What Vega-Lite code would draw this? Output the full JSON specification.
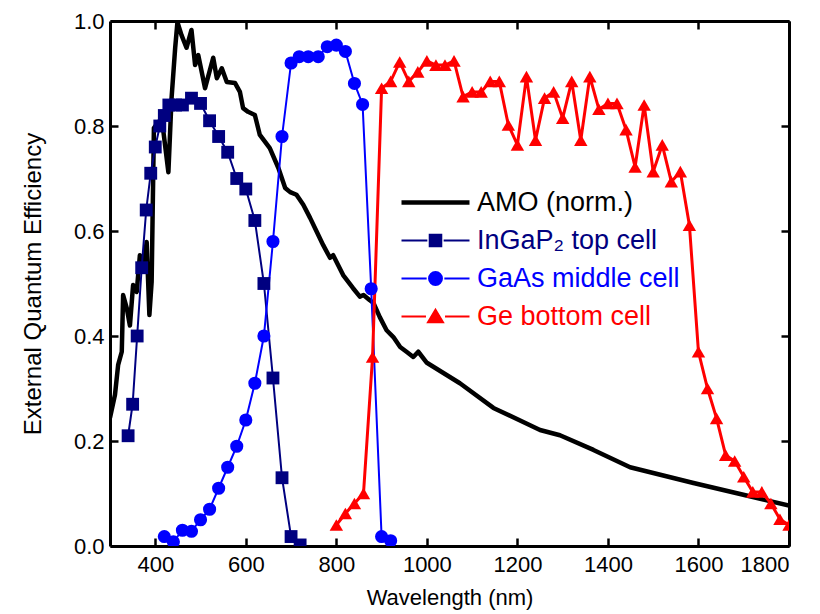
{
  "$schema": "https://vega.github.io/schema/vega-lite/v6.json",
  "width": 679,
  "height": 525,
  "autosize": {"type": "none"},
  "padding": {"left": 110, "top": 21, "right": 31, "bottom": 68},
  "background": "white",
  "config": {
    "view": {"stroke": null},
    "axis": {
      "grid": false,
      "domainColor": "black",
      "domainWidth": 3,
      "tickColor": "black",
      "tickWidth": 2.5,
      "tickSize": -8,
      "labelFont": "Liberation Sans Narrow, Liberation Sans",
      "labelFontSize": 22,
      "labelColor": "black",
      "titleFont": "Liberation Sans",
      "titleFontWeight": "normal",
      "titleColor": "black",
      "titleFontSize": 22
    }
  },
  "datasets": {
    "am0": [
      {"series": "AMO (norm.)", "nm": 300, "eqe": 0.244},
      {"series": "AMO (norm.)", "nm": 311, "eqe": 0.288},
      {"series": "AMO (norm.)", "nm": 318, "eqe": 0.345},
      {"series": "AMO (norm.)", "nm": 326, "eqe": 0.37},
      {"series": "AMO (norm.)", "nm": 329, "eqe": 0.478},
      {"series": "AMO (norm.)", "nm": 337, "eqe": 0.453},
      {"series": "AMO (norm.)", "nm": 344, "eqe": 0.42},
      {"series": "AMO (norm.)", "nm": 351, "eqe": 0.497},
      {"series": "AMO (norm.)", "nm": 359, "eqe": 0.484},
      {"series": "AMO (norm.)", "nm": 366, "eqe": 0.554},
      {"series": "AMO (norm.)", "nm": 374, "eqe": 0.53},
      {"series": "AMO (norm.)", "nm": 381, "eqe": 0.579},
      {"series": "AMO (norm.)", "nm": 387, "eqe": 0.44},
      {"series": "AMO (norm.)", "nm": 392, "eqe": 0.503},
      {"series": "AMO (norm.)", "nm": 397, "eqe": 0.796},
      {"series": "AMO (norm.)", "nm": 407, "eqe": 0.808},
      {"series": "AMO (norm.)", "nm": 418, "eqe": 0.789},
      {"series": "AMO (norm.)", "nm": 429, "eqe": 0.712},
      {"series": "AMO (norm.)", "nm": 436, "eqe": 0.853},
      {"series": "AMO (norm.)", "nm": 444, "eqe": 0.949},
      {"series": "AMO (norm.)", "nm": 449, "eqe": 0.998},
      {"series": "AMO (norm.)", "nm": 458, "eqe": 0.973},
      {"series": "AMO (norm.)", "nm": 469, "eqe": 0.949},
      {"series": "AMO (norm.)", "nm": 480, "eqe": 0.983},
      {"series": "AMO (norm.)", "nm": 488, "eqe": 0.916},
      {"series": "AMO (norm.)", "nm": 495, "eqe": 0.935},
      {"series": "AMO (norm.)", "nm": 510, "eqe": 0.872},
      {"series": "AMO (norm.)", "nm": 528, "eqe": 0.93},
      {"series": "AMO (norm.)", "nm": 536, "eqe": 0.891},
      {"series": "AMO (norm.)", "nm": 547, "eqe": 0.91},
      {"series": "AMO (norm.)", "nm": 558, "eqe": 0.884},
      {"series": "AMO (norm.)", "nm": 576, "eqe": 0.882},
      {"series": "AMO (norm.)", "nm": 587, "eqe": 0.865},
      {"series": "AMO (norm.)", "nm": 594, "eqe": 0.834},
      {"series": "AMO (norm.)", "nm": 605, "eqe": 0.827},
      {"series": "AMO (norm.)", "nm": 620, "eqe": 0.821},
      {"series": "AMO (norm.)", "nm": 631, "eqe": 0.783},
      {"series": "AMO (norm.)", "nm": 653, "eqe": 0.758},
      {"series": "AMO (norm.)", "nm": 672, "eqe": 0.72},
      {"series": "AMO (norm.)", "nm": 687, "eqe": 0.682},
      {"series": "AMO (norm.)", "nm": 698, "eqe": 0.674},
      {"series": "AMO (norm.)", "nm": 712, "eqe": 0.669},
      {"series": "AMO (norm.)", "nm": 727, "eqe": 0.65},
      {"series": "AMO (norm.)", "nm": 742, "eqe": 0.625},
      {"series": "AMO (norm.)", "nm": 757, "eqe": 0.598},
      {"series": "AMO (norm.)", "nm": 771, "eqe": 0.573},
      {"series": "AMO (norm.)", "nm": 786, "eqe": 0.549},
      {"series": "AMO (norm.)", "nm": 793, "eqe": 0.554},
      {"series": "AMO (norm.)", "nm": 815, "eqe": 0.516},
      {"series": "AMO (norm.)", "nm": 837, "eqe": 0.491},
      {"series": "AMO (norm.)", "nm": 852, "eqe": 0.475},
      {"series": "AMO (norm.)", "nm": 860, "eqe": 0.478},
      {"series": "AMO (norm.)", "nm": 874, "eqe": 0.468},
      {"series": "AMO (norm.)", "nm": 882, "eqe": 0.463},
      {"series": "AMO (norm.)", "nm": 896, "eqe": 0.436},
      {"series": "AMO (norm.)", "nm": 911, "eqe": 0.411},
      {"series": "AMO (norm.)", "nm": 926, "eqe": 0.398},
      {"series": "AMO (norm.)", "nm": 941, "eqe": 0.379},
      {"series": "AMO (norm.)", "nm": 955, "eqe": 0.37},
      {"series": "AMO (norm.)", "nm": 970, "eqe": 0.36},
      {"series": "AMO (norm.)", "nm": 981, "eqe": 0.37},
      {"series": "AMO (norm.)", "nm": 1000, "eqe": 0.349},
      {"series": "AMO (norm.)", "nm": 1073, "eqe": 0.31},
      {"series": "AMO (norm.)", "nm": 1147, "eqe": 0.263},
      {"series": "AMO (norm.)", "nm": 1250, "eqe": 0.221},
      {"series": "AMO (norm.)", "nm": 1294, "eqe": 0.211},
      {"series": "AMO (norm.)", "nm": 1368, "eqe": 0.183},
      {"series": "AMO (norm.)", "nm": 1449, "eqe": 0.15},
      {"series": "AMO (norm.)", "nm": 1589, "eqe": 0.12},
      {"series": "AMO (norm.)", "nm": 1800, "eqe": 0.077}
    ],
    "cells": [
      {"series": "InGaP₂ top cell", "nm": 340, "eqe": 0.21},
      {"series": "InGaP₂ top cell", "nm": 350, "eqe": 0.27},
      {"series": "InGaP₂ top cell", "nm": 360, "eqe": 0.40},
      {"series": "InGaP₂ top cell", "nm": 370, "eqe": 0.53},
      {"series": "InGaP₂ top cell", "nm": 380, "eqe": 0.64},
      {"series": "InGaP₂ top cell", "nm": 390, "eqe": 0.71},
      {"series": "InGaP₂ top cell", "nm": 400, "eqe": 0.76},
      {"series": "InGaP₂ top cell", "nm": 410, "eqe": 0.80},
      {"series": "InGaP₂ top cell", "nm": 420, "eqe": 0.82},
      {"series": "InGaP₂ top cell", "nm": 430, "eqe": 0.84},
      {"series": "InGaP₂ top cell", "nm": 445, "eqe": 0.84},
      {"series": "InGaP₂ top cell", "nm": 460, "eqe": 0.84},
      {"series": "InGaP₂ top cell", "nm": 480, "eqe": 0.853},
      {"series": "InGaP₂ top cell", "nm": 500, "eqe": 0.843},
      {"series": "InGaP₂ top cell", "nm": 520, "eqe": 0.81},
      {"series": "InGaP₂ top cell", "nm": 540, "eqe": 0.78},
      {"series": "InGaP₂ top cell", "nm": 560, "eqe": 0.75},
      {"series": "InGaP₂ top cell", "nm": 580, "eqe": 0.70},
      {"series": "InGaP₂ top cell", "nm": 600, "eqe": 0.68},
      {"series": "InGaP₂ top cell", "nm": 620, "eqe": 0.62},
      {"series": "InGaP₂ top cell", "nm": 640, "eqe": 0.50},
      {"series": "InGaP₂ top cell", "nm": 660, "eqe": 0.32},
      {"series": "InGaP₂ top cell", "nm": 680, "eqe": 0.13},
      {"series": "InGaP₂ top cell", "nm": 700, "eqe": 0.018},
      {"series": "InGaP₂ top cell", "nm": 720, "eqe": 0.002},
      {"series": "GaAs middle cell", "nm": 420, "eqe": 0.018},
      {"series": "GaAs middle cell", "nm": 440, "eqe": 0.008},
      {"series": "GaAs middle cell", "nm": 460, "eqe": 0.03},
      {"series": "GaAs middle cell", "nm": 480, "eqe": 0.028},
      {"series": "GaAs middle cell", "nm": 500, "eqe": 0.05},
      {"series": "GaAs middle cell", "nm": 520, "eqe": 0.07},
      {"series": "GaAs middle cell", "nm": 540, "eqe": 0.11},
      {"series": "GaAs middle cell", "nm": 560, "eqe": 0.15},
      {"series": "GaAs middle cell", "nm": 580, "eqe": 0.19},
      {"series": "GaAs middle cell", "nm": 600, "eqe": 0.24},
      {"series": "GaAs middle cell", "nm": 620, "eqe": 0.31},
      {"series": "GaAs middle cell", "nm": 640, "eqe": 0.40},
      {"series": "GaAs middle cell", "nm": 660, "eqe": 0.58},
      {"series": "GaAs middle cell", "nm": 680, "eqe": 0.78},
      {"series": "GaAs middle cell", "nm": 700, "eqe": 0.92},
      {"series": "GaAs middle cell", "nm": 718, "eqe": 0.932},
      {"series": "GaAs middle cell", "nm": 738, "eqe": 0.932},
      {"series": "GaAs middle cell", "nm": 760, "eqe": 0.932},
      {"series": "GaAs middle cell", "nm": 780, "eqe": 0.951},
      {"series": "GaAs middle cell", "nm": 800, "eqe": 0.954},
      {"series": "GaAs middle cell", "nm": 820, "eqe": 0.942},
      {"series": "GaAs middle cell", "nm": 840, "eqe": 0.881},
      {"series": "GaAs middle cell", "nm": 858, "eqe": 0.841},
      {"series": "GaAs middle cell", "nm": 877, "eqe": 0.49},
      {"series": "GaAs middle cell", "nm": 900, "eqe": 0.018},
      {"series": "GaAs middle cell", "nm": 920, "eqe": 0.01},
      {"series": "Ge bottom cell", "nm": 800, "eqe": 0.04},
      {"series": "Ge bottom cell", "nm": 820, "eqe": 0.062},
      {"series": "Ge bottom cell", "nm": 840, "eqe": 0.081},
      {"series": "Ge bottom cell", "nm": 860, "eqe": 0.10},
      {"series": "Ge bottom cell", "nm": 880, "eqe": 0.36},
      {"series": "Ge bottom cell", "nm": 900, "eqe": 0.872},
      {"series": "Ge bottom cell", "nm": 920, "eqe": 0.885},
      {"series": "Ge bottom cell", "nm": 940, "eqe": 0.922},
      {"series": "Ge bottom cell", "nm": 960, "eqe": 0.885},
      {"series": "Ge bottom cell", "nm": 980, "eqe": 0.903},
      {"series": "Ge bottom cell", "nm": 1000, "eqe": 0.924},
      {"series": "Ge bottom cell", "nm": 1020, "eqe": 0.916},
      {"series": "Ge bottom cell", "nm": 1040, "eqe": 0.916},
      {"series": "Ge bottom cell", "nm": 1060, "eqe": 0.924},
      {"series": "Ge bottom cell", "nm": 1080, "eqe": 0.856},
      {"series": "Ge bottom cell", "nm": 1100, "eqe": 0.865},
      {"series": "Ge bottom cell", "nm": 1120, "eqe": 0.865},
      {"series": "Ge bottom cell", "nm": 1140, "eqe": 0.885},
      {"series": "Ge bottom cell", "nm": 1160, "eqe": 0.885},
      {"series": "Ge bottom cell", "nm": 1180, "eqe": 0.802},
      {"series": "Ge bottom cell", "nm": 1200, "eqe": 0.764},
      {"series": "Ge bottom cell", "nm": 1220, "eqe": 0.894},
      {"series": "Ge bottom cell", "nm": 1240, "eqe": 0.773},
      {"series": "Ge bottom cell", "nm": 1260, "eqe": 0.853},
      {"series": "Ge bottom cell", "nm": 1280, "eqe": 0.865},
      {"series": "Ge bottom cell", "nm": 1300, "eqe": 0.815},
      {"series": "Ge bottom cell", "nm": 1320, "eqe": 0.885},
      {"series": "Ge bottom cell", "nm": 1340, "eqe": 0.773},
      {"series": "Ge bottom cell", "nm": 1360, "eqe": 0.894},
      {"series": "Ge bottom cell", "nm": 1380, "eqe": 0.832},
      {"series": "Ge bottom cell", "nm": 1400, "eqe": 0.843},
      {"series": "Ge bottom cell", "nm": 1420, "eqe": 0.843},
      {"series": "Ge bottom cell", "nm": 1440, "eqe": 0.793},
      {"series": "Ge bottom cell", "nm": 1460, "eqe": 0.722},
      {"series": "Ge bottom cell", "nm": 1480, "eqe": 0.84},
      {"series": "Ge bottom cell", "nm": 1500, "eqe": 0.713},
      {"series": "Ge bottom cell", "nm": 1520, "eqe": 0.764},
      {"series": "Ge bottom cell", "nm": 1540, "eqe": 0.694},
      {"series": "Ge bottom cell", "nm": 1560, "eqe": 0.713},
      {"series": "Ge bottom cell", "nm": 1580, "eqe": 0.611},
      {"series": "Ge bottom cell", "nm": 1600, "eqe": 0.37},
      {"series": "Ge bottom cell", "nm": 1620, "eqe": 0.30},
      {"series": "Ge bottom cell", "nm": 1640, "eqe": 0.243},
      {"series": "Ge bottom cell", "nm": 1660, "eqe": 0.173},
      {"series": "Ge bottom cell", "nm": 1680, "eqe": 0.162},
      {"series": "Ge bottom cell", "nm": 1700, "eqe": 0.132},
      {"series": "Ge bottom cell", "nm": 1720, "eqe": 0.103},
      {"series": "Ge bottom cell", "nm": 1740, "eqe": 0.103},
      {"series": "Ge bottom cell", "nm": 1760, "eqe": 0.081},
      {"series": "Ge bottom cell", "nm": 1780, "eqe": 0.051},
      {"series": "Ge bottom cell", "nm": 1800, "eqe": 0.04}
    ]
  },
  "layer": [
    {
      "data": {"name": "am0"},
      "mark": {"type": "line", "strokeWidth": 4.5, "strokeJoin": "round", "clip": true},
      "encoding": {
        "x": {"field": "nm", "type": "quantitative", "scale": {"domain": [300, 1800], "nice": false, "zero": false},
              "axis": {"orient": "top", "values": [400, 600, 800, 1000, 1200, 1400, 1600, 1800], "labels": false, "title": null}},
        "y": {"field": "eqe", "type": "quantitative", "scale": {"domain": [0, 1], "nice": false},
              "axis": {"orient": "right", "values": [0, 0.2, 0.4, 0.6, 0.8, 1.0], "labels": false, "title": null}},
        "color": {
          "field": "series", "type": "nominal",
          "scale": {"domain": ["AMO (norm.)", "InGaP₂ top cell", "GaAs middle cell", "Ge bottom cell"], "range": ["#000000", "#000080", "#0000ff", "#ff0000"]},
          "legend": {
            "title": null,
            "orient": "none",
            "legendX": 312,
            "legendY": 168,
            "symbolSize": 4624,
            "labelFont": "Liberation Sans",
            "labelFontSize": 27,
            "labelOffset": 28,
            "rowPadding": 10,
            "labelLimit": 400,
            "encode": {
              "symbols": {"update": {
                "shape": {"signal": "datum.index == 0 ? 'M-1,0H1' : datum.index == 1 ? 'M-1,0H-0.24M0.24,0H1M-0.17,-0.17H0.17V0.17H-0.17Z' : datum.index == 2 ? 'M-1,0H-0.26M0.26,0H1M0.19,0A0.19,0.19,0,1,1,-0.19,0A0.19,0.19,0,1,1,0.19,0Z' : 'M-1,0H-0.28M0.28,0H1M0,-0.2L0.22,0.17L-0.22,0.17Z'"},
                "fill": {"signal": "scale('color', datum.value)"},
                "stroke": {"signal": "scale('color', datum.value)"},
                "strokeWidth": {"signal": "datum.index == 0 ? 4.5 : 2"},
                "opacity": {"value": 1}
              }},
              "labels": {"update": {"fill": {"signal": "scale('color', datum.value)"}}}
            }
          }
        }
      }
    },
    {
      "data": {"name": "cells"},
      "transform": [{"filter": "datum.series != 'Ge bottom cell'"}],
      "mark": {"type": "line", "strokeWidth": 2, "clip": true},
      "encoding": {
        "x": {"field": "nm", "type": "quantitative",
              "axis": {"orient": "bottom", "values": [400, 600, 800, 1000, 1200, 1400, 1600, 1800], "format": "d", "labelPadding": 16, "title": "Wavelength (nm)", "titlePadding": 12}},
        "y": {"field": "eqe", "type": "quantitative",
              "axis": {"orient": "left", "values": [0, 0.2, 0.4, 0.6, 0.8, 1.0], "format": ".1f", "labelPadding": 14, "title": "External Quantum Efficiency", "titlePadding": 28, "titleFontSize": 24}},
        "color": {"field": "series", "type": "nominal"}
      }
    },
    {
      "data": {"name": "cells"},
      "transform": [{"filter": "datum.series == 'Ge bottom cell'"}],
      "mark": {"type": "line", "strokeWidth": 3, "clip": true},
      "encoding": {
        "x": {"field": "nm", "type": "quantitative", "axis": null},
        "y": {"field": "eqe", "type": "quantitative", "axis": null},
        "color": {"field": "series", "type": "nominal"}
      }
    },
    {
      "data": {"name": "cells"},
      "mark": {"type": "point", "filled": true, "opacity": 1, "clip": true},
      "encoding": {
        "x": {"field": "nm", "type": "quantitative", "axis": null},
        "y": {"field": "eqe", "type": "quantitative", "axis": null},
        "color": {"field": "series", "type": "nominal"},
        "shape": {"field": "series", "type": "nominal", "scale": {"domain": ["InGaP₂ top cell", "GaAs middle cell", "Ge bottom cell"], "range": ["square", "circle", "triangle-up"]}, "legend": null},
        "size": {"field": "series", "type": "ordinal", "scale": {"domain": ["InGaP₂ top cell", "GaAs middle cell", "Ge bottom cell"], "range": [165, 180, 290]}, "legend": null}
      }
    }
  ],
  "resolve": {"axis": {"x": "independent", "y": "independent"}}
}
